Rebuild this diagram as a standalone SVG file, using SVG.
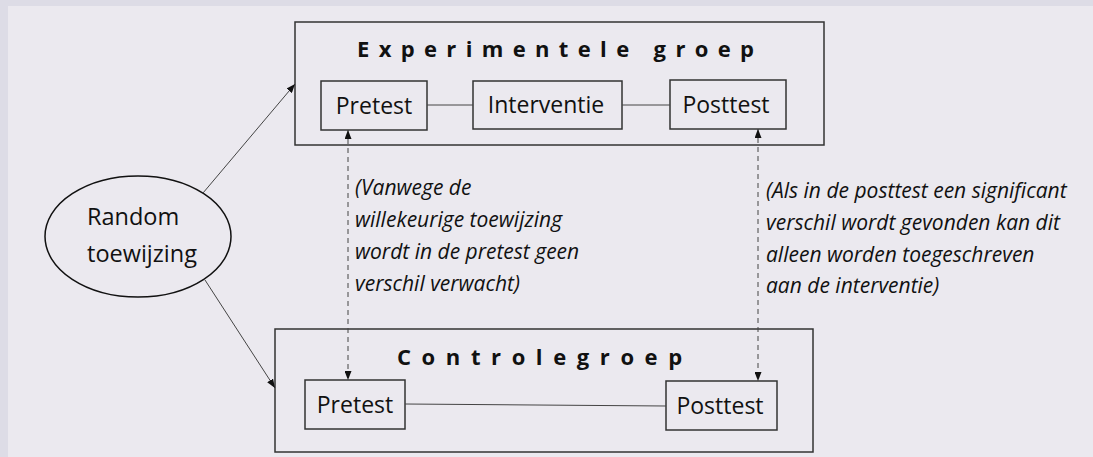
<svg xmlns="http://www.w3.org/2000/svg" width="1093" height="457" viewBox="0 0 1093 457">
<style>
.box{fill:none;stroke:#333;stroke-width:1.5}
.ln{fill:none;stroke:#444;stroke-width:1}
.dash{fill:none;stroke:#444;stroke-width:1;stroke-dasharray:5,4}
.lbl{font-family:"Open Sans","Noto Sans",sans-serif;font-size:23px;fill:#111}
.ttl{font-family:"Open Sans","Noto Sans",sans-serif;font-size:22px;font-weight:bold;fill:#111}
.note{font-family:"Open Sans","Noto Sans",sans-serif;font-size:21px;font-style:italic;fill:#111}
</style>
<defs>
<marker id="ah" viewBox="0 0 10 10" refX="10" refY="5" markerWidth="9" markerHeight="7" markerUnits="userSpaceOnUse" orient="auto-start-reverse" preserveAspectRatio="none">
<path d="M0,0 L10,5 L0,10 z" fill="#111"/>
</marker>
</defs>
<rect x="0" y="0" width="1093" height="457" fill="#dddce6"/>
<rect x="8" y="6" width="1085" height="451" fill="#ebe9ef"/>

<g id="random">
<ellipse cx="138" cy="236.5" rx="93" ry="60.5" fill="none" stroke="#111" stroke-width="1.5"/>
<text class="lbl" x="87" y="225" style="font-size:23.5px">Random</text>
<text class="lbl" x="87" y="262" style="font-size:23.5px">toewijzing</text>
</g>

<g id="experimentele-groep">
<rect class="box" x="295" y="22" width="529" height="123"/>
<text class="ttl" x="357" y="57" letter-spacing="9.35">Experimentele groep</text>
</g>
<g id="exp-pretest">
<rect class="box" x="321" y="81" width="106" height="49"/>
<text class="lbl" x="374" y="114" text-anchor="middle">Pretest</text>
</g>
<g id="exp-interventie">
<rect class="box" x="473" y="81" width="149" height="48"/>
<text class="lbl" x="546" y="113" text-anchor="middle">Interventie</text>
</g>
<g id="exp-posttest">
<rect class="box" x="670" y="80" width="116" height="49"/>
<text class="lbl" x="726" y="113" text-anchor="middle">Posttest</text>
</g>

<g id="controlegroep">
<rect class="box" x="275" y="329" width="538" height="123"/>
<text class="ttl" x="397" y="365" letter-spacing="10.6">Controlegroep</text>
</g>
<g id="ctl-pretest">
<rect class="box" x="305" y="380" width="100" height="49"/>
<text class="lbl" x="355" y="413" text-anchor="middle">Pretest</text>
</g>
<g id="ctl-posttest">
<rect class="box" x="666" y="381" width="111" height="49"/>
<text class="lbl" x="720" y="414" text-anchor="middle">Posttest</text>
</g>

<g id="note-pretest">
<text class="note" x="355" y="195">(Vanwege de</text>
<text class="note" x="355" y="227">willekeurige toewijzing</text>
<text class="note" x="355" y="259">wordt in de pretest geen</text>
<text class="note" x="355" y="291">verschil verwacht)</text>
</g>
<g id="note-posttest">
<text class="note" x="766" y="198">(Als in de posttest een significant</text>
<text class="note" x="766" y="230">verschil wordt gevonden kan dit</text>
<text class="note" x="766" y="262">alleen worden toegeschreven</text>
<text class="note" x="766" y="293">aan de interventie)</text>
</g>

<g id="connectors">
<line class="ln" x1="203" y1="193" x2="295" y2="84" marker-end="url(#ah)"/>
<line class="ln" x1="205" y1="280" x2="275" y2="388" marker-end="url(#ah)"/>
<line class="ln" x1="427" y1="105" x2="473" y2="105"/>
<line class="ln" x1="622" y1="105" x2="670" y2="105"/>
<line class="ln" x1="405" y1="404" x2="666" y2="406"/>
<line class="dash" x1="348" y1="130" x2="348" y2="380" marker-start="url(#ah)" marker-end="url(#ah)"/>
<line class="dash" x1="758" y1="129" x2="758" y2="381" marker-start="url(#ah)" marker-end="url(#ah)"/>
</g>
</svg>
